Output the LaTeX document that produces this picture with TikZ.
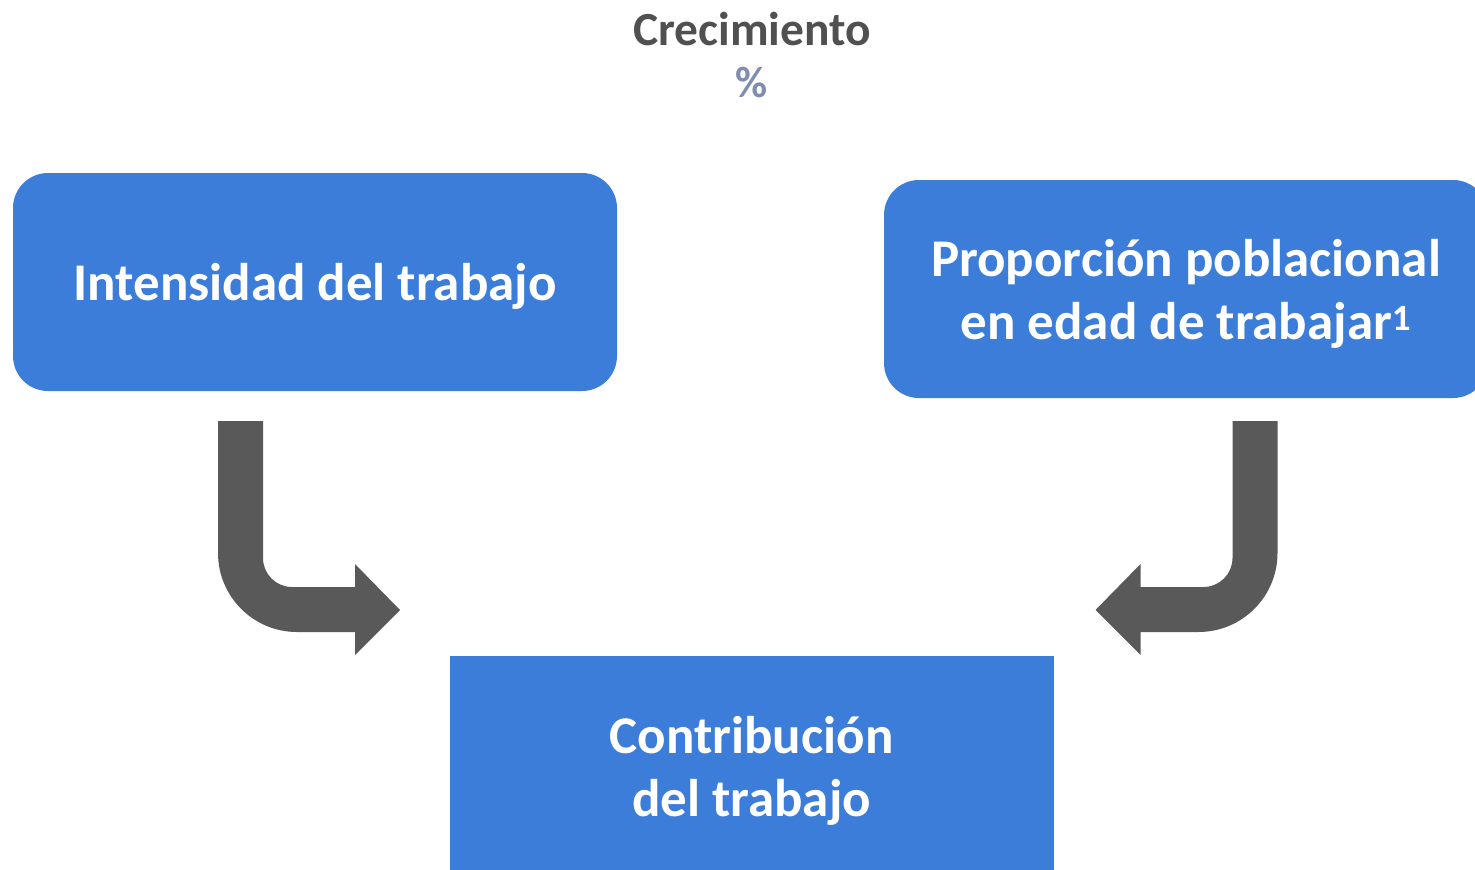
\documentclass[tikz,border=0pt]{standalone}
\usepackage{fontspec}
\setmainfont{Carlito}
\definecolor{boxblue}{HTML}{3C7DD9}
\definecolor{arrowgray}{HTML}{595959}
\definecolor{titlegray}{HTML}{505050}
\definecolor{pctblue}{HTML}{7F8DB0}
\begin{document}
\begin{tikzpicture}[x=1pt,y=-1pt,
  box/.style={fill=boxblue, draw=none, minimum width=604pt, minimum height=218pt, inner sep=0pt},
  rbox/.style={box, rounded corners=35pt},
  boxtext/.style={text=white, font=\bfseries\fontsize{53}{63.5}\selectfont, align=center, inner sep=0pt},
  bigarrow/.style={fill=arrowgray, draw=none}]
\useasboundingbox (0,0) rectangle (1475,870);
\node[font=\bfseries\fontsize{47.5}{57}\selectfont, text=titlegray] (title) at (752,29) {Crecimiento};
\node[font=\bfseries\fontsize{44}{50}\selectfont, text=pctblue] (pct) at (752,83) {\%};
\node[rbox] (intens) at (315,282) {};
\node[boxtext] (intenstxt) at ([yshift=-4pt]intens.center) {Intensidad del trabajo};
\node[rbox] (prop) at (1186,289) {};
\node[boxtext] (proptxt) at ([yshift=-5pt]prop.center) {Proporción poblacional\\en edad de trabajar\textsuperscript{1}};
\node[box] (contrib) at (751.5,765) {};
\node[boxtext] (contribtxt) at ([yshift=-6pt]contrib.center) {Contribución\\del trabajo};
% left bent arrow
\fill[bigarrow] (218,421) -- (218,553) .. controls (218,596.6) and (253.4,632) .. (297,632)
  -- (355,632) -- (355,655) -- (400,610) -- (355,564) -- (355,587) -- (292,587)
  .. controls (276,587) and (263,574) .. (263,558) -- (263,421) -- cycle;
% right bent arrow (mirror)
\begin{scope}[xshift=1495.5pt, xscale=-1]
\fill[bigarrow] (218,421) -- (218,553) .. controls (218,596.6) and (253.4,632) .. (297,632)
  -- (355,632) -- (355,655) -- (400,610) -- (355,564) -- (355,587) -- (292,587)
  .. controls (276,587) and (263,574) .. (263,558) -- (263,421) -- cycle;
\end{scope}
\end{tikzpicture}
\end{document}
